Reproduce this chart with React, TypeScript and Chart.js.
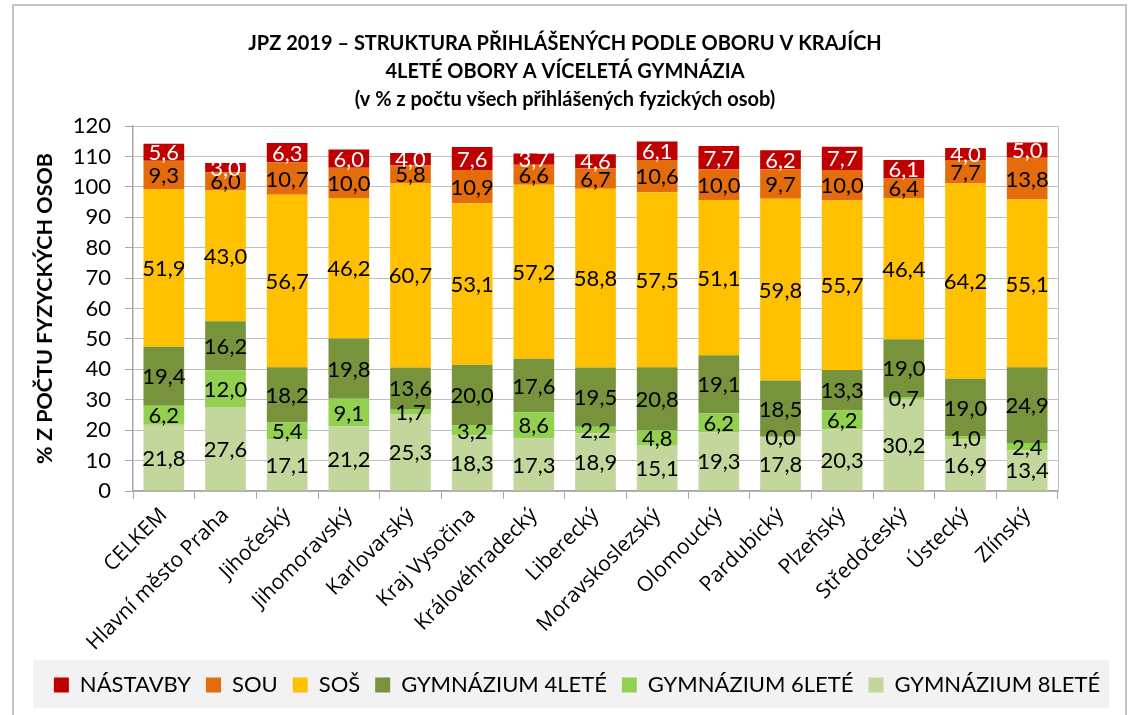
import React, { useEffect, useRef } from "react";
import { Chart, registerables } from "chart.js";

Chart.register(...registerables);

const categories = [
  "CELKEM",
  "Hlavní město Praha",
  "Jihočeský",
  "Jihomoravský",
  "Karlovarský",
  "Kraj Vysočina",
  "Královéhradecký",
  "Liberecký",
  "Moravskoslezský",
  "Olomoucký",
  "Pardubický",
  "Plzeňský",
  "Středočeský",
  "Ústecký",
  "Zlínský",
];

const gym8 = [21.8, 27.6, 17.1, 21.2, 25.3, 18.3, 17.3, 18.9, 15.1, 19.3, 17.8, 20.3, 30.2, 16.9, 13.4];
const gym6 = [6.2, 12.0, 5.4, 9.1, 1.7, 3.2, 8.6, 2.2, 4.8, 6.2, 0.0, 6.2, 0.7, 1.0, 2.4];
const gym4 = [19.4, 16.2, 18.2, 19.8, 13.6, 20.0, 17.6, 19.5, 20.8, 19.1, 18.5, 13.3, 19.0, 19.0, 24.9];
const sos = [51.9, 43.0, 56.7, 46.2, 60.7, 53.1, 57.2, 58.8, 57.5, 51.1, 59.8, 55.7, 46.4, 64.2, 55.1];
const sou = [9.3, 6.0, 10.7, 10.0, 5.8, 10.9, 6.6, 6.7, 10.6, 10.0, 9.7, 10.0, 6.4, 7.7, 13.8];
const nastavby = [5.6, 3.0, 6.3, 6.0, 4.0, 7.6, 3.7, 4.6, 6.1, 7.7, 6.2, 7.7, 6.1, 4.0, 5.0];

const seriesNames = ["GYMNÁZIUM 8LETÉ", "GYMNÁZIUM 6LETÉ", "GYMNÁZIUM 4LETÉ", "SOŠ", "SOU", "NÁSTAVBY"];
const seriesColors = ["#C3D69B", "#92D050", "#77933C", "#FFC000", "#E46C0A", "#C00000"];
const labelColors = ["#000000", "#000000", "#000000", "#000000", "#000000", "#FFFFFF"];

const titleLines = [
  "JPZ 2019 – STRUKTURA PŘIHLÁŠENÝCH PODLE OBORU V KRAJÍCH",
  "4LETÉ OBORY A VÍCELETÁ GYMNÁZIA",
  "(v % z počtu všech přihlášených fyzických osob)",
];
const yAxisTitle = "% Z POČTU FYZYCKÝCH OSOB";
const yMin = 0;
const yMax = 120;
const yStep = 10;

const FONT = "Lato, 'Open Sans', sans-serif";
const XFONT = "'Open Sans', Lato, sans-serif";

const W = 1130;
const H = 715;

const bgPlugin = {
  id: "bgPlugin",
  afterLayout(chart: any) {
    const lg = chart.legend;
    if (lg) {
      lg.left += 12;
      lg.right += 12;
    }
  },
  beforeDraw(chart: any) {
    const ctx = chart.ctx;
    ctx.save();
    ctx.fillStyle = "#FFFFFF";
    ctx.fillRect(0, 0, chart.width, chart.height);
    ctx.strokeStyle = "#C4C4C4";
    ctx.lineWidth = 2;
    ctx.strokeRect(13, 5, 1113, 720);
    const lg = chart.legend;
    if (lg) {
      ctx.fillStyle = "#F2F2F2";
      ctx.fillRect(33, lg.top + 1, 1076, 48);
    }
    ctx.restore();
  },
  afterDraw(chart: any) {
    const ctx = chart.ctx;
    const a = chart.chartArea;
    ctx.save();
    ctx.strokeStyle = "#BFBFBF";
    ctx.lineWidth = 1;
    ctx.beginPath();
    ctx.moveTo(a.left, a.top + 0.5);
    ctx.lineTo(a.right + 0.5, a.top + 0.5);
    ctx.lineTo(a.right + 0.5, a.bottom);
    ctx.stroke();
    ctx.restore();
  },
};

const labelPlugin = {
  id: "labelPlugin",
  afterDatasetsDraw(chart: any) {
    const ctx = chart.ctx;
    ctx.save();
    ctx.font = `22px ${FONT}`;
    ctx.textAlign = "center";
    ctx.textBaseline = "middle";
    chart.data.datasets.forEach((ds: any, di: number) => {
      const meta = chart.getDatasetMeta(di);
      meta.data.forEach((el: any, i: number) => {
        const v = ds.data[i];
        const p = el.getProps(["x", "y", "base"], true);
        const cy = (p.y + p.base) / 2;
        ctx.fillStyle = labelColors[di];
        ctx.fillText(v.toFixed(1).replace(".", ","), p.x, cy + 1);
      });
    });
    ctx.restore();
  },
};

export default function App() {
  const ref = useRef<HTMLCanvasElement | null>(null);

  useEffect(() => {
    if (!ref.current) return;
    const data = [gym8, gym6, gym4, sos, sou, nastavby];
    const chart = new Chart(ref.current, {
      type: "bar",
      data: {
        labels: categories,
        datasets: data.map((d, i) => ({
          label: seriesNames[i],
          data: d,
          backgroundColor: seriesColors[i],
          borderWidth: 0,
          barPercentage: 0.66,
          categoryPercentage: 1,
        })),
      },
      options: {
        responsive: false,
        animation: false,
        devicePixelRatio: 1,
        layout: { padding: { left: 0, right: 0, top: 0, bottom: 9 } },
        plugins: {
          tooltip: { enabled: false },
          title: {
            display: true,
            text: titleLines,
            color: "#000000",
            font: { family: FONT, size: 20, weight: "bold", lineHeight: 28 / 20 },
            padding: { top: 30, bottom: 12 },
          },
          legend: {
            position: "bottom",
            reverse: true,
            labels: {
              color: "#000000",
              font: { family: FONT, size: 22 },
              boxWidth: 15,
              boxHeight: 15,
              padding: 15,
            },
          },
        },
        scales: {
          x: {
            stacked: true,
            grid: {
              display: true,
              drawOnChartArea: false,
              drawTicks: true,
              tickLength: 8,
              tickColor: "#A6A6A6",
              offset: true,
            },
            border: { display: true, color: "#A6A6A6", width: 1.5 },
            ticks: {
              color: "#000000",
              font: { family: XFONT, size: 21 },
              minRotation: 45,
              maxRotation: 45,
              autoSkip: false,
              padding: 4,
            },
            afterFit(scale: any) {
              scale.height = 168;
            },
          },
          y: {
            stacked: true,
            min: yMin,
            max: yMax,
            grid: {
              color: "#BFBFBF",
              lineWidth: 1,
              tickLength: 8,
              tickColor: "#A6A6A6",
            },
            border: { display: true, color: "#A6A6A6", width: 1.5 },
            ticks: {
              stepSize: yStep,
              color: "#000000",
              font: { family: FONT, size: 22 },
              padding: 14,
            },
            title: {
              display: true,
              text: yAxisTitle,
              color: "#000000",
              font: { family: FONT, size: 21.5, weight: "bold" },
              padding: { top: 32, bottom: 0 },
            },
            afterFit(scale: any) {
              scale.width = 133;
            },
          },
          yRightSpace: {
            position: "right",
            display: true,
            grid: { display: false, drawTicks: false },
            border: { display: false },
            ticks: { display: false },
            afterFit(scale: any) {
              scale.width = 72;
            },
          },
        },
      },
      plugins: [bgPlugin, labelPlugin],
    });
    return () => chart.destroy();
  }, []);

  return (
    <div style={{ position: "absolute", left: 0, top: 0, width: W, height: H, background: "#fff" }}>
      <canvas ref={ref} width={W} height={H} style={{ display: "block", width: W, height: H }} />
    </div>
  );
}
